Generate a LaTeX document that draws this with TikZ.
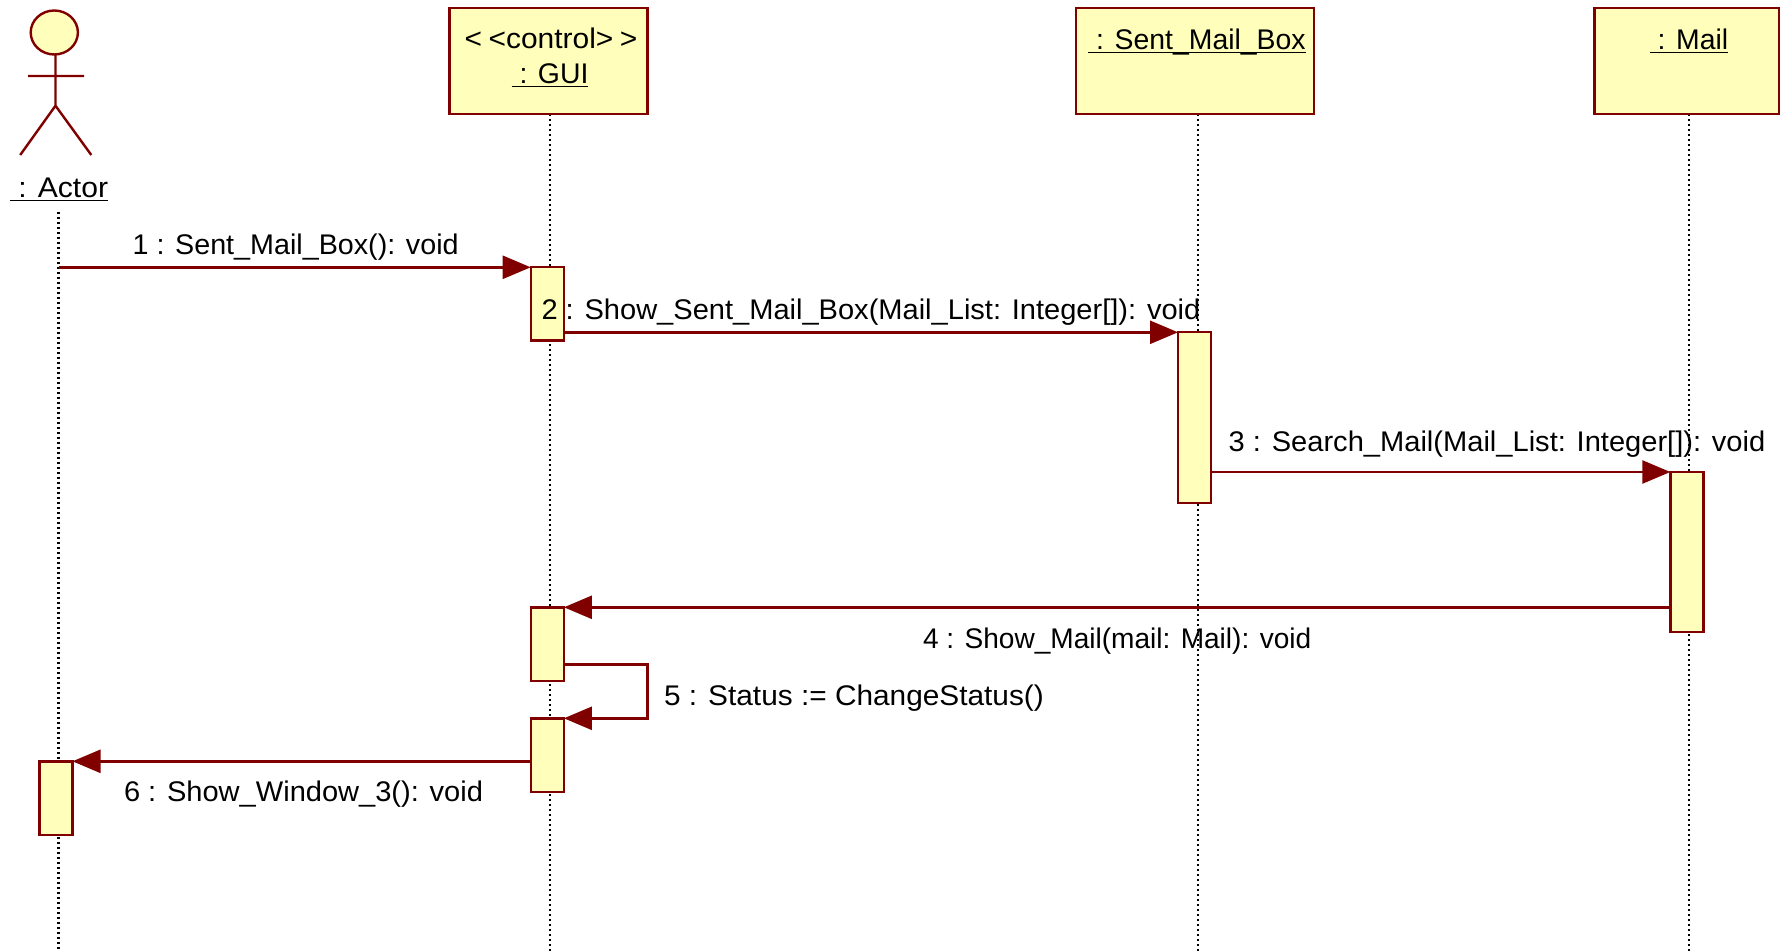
\documentclass[tikz,border=0pt]{standalone}
\usepackage{fontspec}
\setmainfont{Liberation Sans}
\usepackage{tikz}
\usetikzlibrary{arrows.meta,positioning,calc}
\definecolor{umlred}{RGB}{128,0,0}
\definecolor{umlfill}{RGB}{255,255,187}
\newcommand{\ulabel}[1]{\underline{\smash{#1}}}
\tikzset{
  objbox/.style={draw=umlred, fill=umlfill, line width=1.2pt, anchor=north west, inner sep=0, outer sep=0, minimum height=53pt},
  actbar/.style={draw=umlred, fill=umlfill, line width=1.2pt, anchor=north west, inner sep=0, outer sep=0, minimum width=16.6pt},
  lifeline/.style={line width=1.2pt, dash pattern=on 1.1pt off 1.4pt},
  msgline/.style={draw=umlred, line width=1.25pt, -{Triangle[length=14pt,width=11.5pt]}},
  msglabel/.style={anchor=base west, inner sep=0, outer sep=0, transform shape, xscale=#1, font=\fontsize{14.2}{17}\selectfont},
  msglabel/.default=1,
  objlabel/.style={anchor=base, inner sep=0, outer sep=0, transform shape, xscale=#1, font=\fontsize{14.2}{17}\selectfont},
  objlabel/.default=1
}
\begin{document}
\begin{tikzpicture}[x=0.5pt,y=-0.5pt]
    \useasboundingbox (0,0) rectangle (1780,951);
    \coordinate (actorlife) at (58.5,212);
    \coordinate (guilife) at (549.7,114);
    \coordinate (boxlife) at (1198,114);
    \coordinate (maillife) at (1689,114);
    \coordinate (bottom) at (0,951);
    \draw[lifeline] (actorlife) -- (actorlife |- bottom);
    \draw[lifeline] (guilife) -- (guilife |- bottom);
    \draw[lifeline] (boxlife) -- (boxlife |- bottom);
    \draw[lifeline] (maillife) -- (maillife |- bottom);
    \filldraw[fill=umlfill, draw=umlred, line width=1.2pt] (54.3,32.5) ellipse (23.6 and 22);
    \draw[umlred, line width=1.2pt] (55.5,54.5) -- (55.5,105.7) (28.2,76) -- (84,76) (20.2,155) -- (55.5,105.7) -- (91.3,155);
    \node[objlabel=1.06] (actorname) at (59,198) {\ulabel{\ : Actor}};
    \node[objbox, minimum width=98.9pt] (guibox) at (449.5,8) {};
    \node[objbox, minimum width=119pt] (sentbox) at (1076,8) {};
    \node[objbox, minimum width=92.3pt] (mailbox) at (1594.4,8) {};
    \node[objlabel=1.055] (guitype) at (551,49) {<\kern3pt<control>\kern3pt>};
    \node[objlabel] (guiname) at (550,84) {\ulabel{\ : GUI}};
    \node[objlabel] (sentname) at (1197,49.5) {\ulabel{\ : Sent\_Mail\_Box}};
    \node[objlabel] (mailname) at (1689,49.5) {\ulabel{\ : Mail}};
    \node[actbar, minimum height=36.7pt] (guibar) at (530.7,267.3) {};
    \node[actbar, minimum height=85.2pt] (sentbar) at (1178,332.3) {};
    \node[actbar, minimum height=80pt] (mailbar) at (1670.3,472) {};
    \node[actbar, minimum height=36.7pt] (showbar) at (530.7,607.3) {};
    \node[actbar, minimum height=36.7pt] (statusbar) at (530.7,718.3) {};
    \node[actbar, minimum height=36.8pt] (actorbar) at (39.3,761.3) {};
    \coordinate (loopa) at (647.3,664.3);
    \coordinate (loopb) at (647.3,718.3);
    \draw[msgline] (actorlife |- guibar.north west) -- (guibar.north west);
    \draw[msgline] (guibar.east |- sentbar.north west) -- (sentbar.north west);
    \draw[msgline] (sentbar.east |- mailbar.north west) -- (mailbar.north west);
    \draw[msgline] (mailbar.west |- showbar.north east) -- (showbar.north east);
    \draw[msgline] (showbar.east |- loopa) -- (loopa) -- (loopb) -- (statusbar.north east);
    \draw[msgline] (statusbar.west |- actorbar.north east) -- (actorbar.north east);
    \node[msglabel=1.011] (msgone) at (132.6,254.5) {1 : Sent\_Mail\_Box(): void};
    \node[msglabel=1.023] (msgtwo) at (541.5,319.5) {2 : Show\_Sent\_Mail\_Box(Mail\_List: Integer[]): void};
    \node[msglabel=1.024] (msgthree) at (1228.7,451.5) {3 : Search\_Mail(Mail\_List: Integer[]): void};
    \node[msglabel=0.988] (msgfour) at (923,648.5) {4 : Show\_Mail(mail: Mail): void};
    \node[msglabel=1.05] (msgfive) at (664,705) {5 : Status := ChangeStatus()};
    \node[msglabel=1.023] (msgsix) at (124,801) {6 : Show\_Window\_3(): void};
  \end{tikzpicture}
\end{document}
